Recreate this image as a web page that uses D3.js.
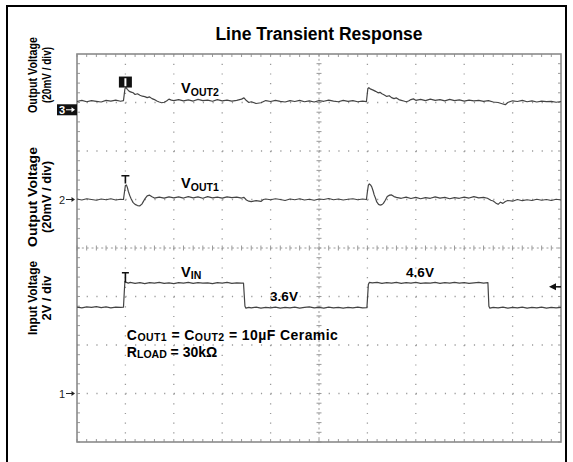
<!DOCTYPE html>
<html>
<head>
<meta charset="utf-8">
<script src="https://cdn.jsdelivr.net/npm/d3@7"></script>
<style>
  body { margin: 0; background: #fff; }
  svg { display: block; }
  text { font-family: "Liberation Sans", Arial, Helvetica, sans-serif; font-weight: bold; fill: #000; }
</style>
</head>
<body>
<div id="scope"></div>
<script>
// traces: [time in divisions, value]; VOUT in mV (AC), VIN in volts
const vout2 = [[0,3.4],[0.1,3.9],[0.2,3.3],[0.3,3.8],[0.4,3.5],[0.5,3.2],[0.6,3.9],[0.7,3.6],[0.8,4.0],[0.9,3.5],[0.96,3.8],
  [0.99,8.6],[1.01,9.2],[1.04,8.4],[1.08,7.6],[1.12,7.3],[1.16,7.0],[1.2,6.3],[1.25,6.6],[1.3,6.0],[1.35,5.6],[1.4,5.4],
  [1.45,5.0],[1.5,5.3],[1.55,4.6],[1.6,4.2],[1.65,3.6],[1.7,3.2],[1.75,2.9],[1.8,3.1],[1.85,3.6],[1.9,4.4],[1.95,4.0],
  [2.0,3.8],[2.1,4.2],[2.2,3.7],[2.3,4.1],[2.4,3.6],[2.5,4.3],[2.6,3.8],[2.7,4.0],[2.8,3.5],[2.9,4.2],[3.0,3.7],[3.1,4.0],
  [3.2,3.6],[3.3,3.9],[3.4,4.4],[3.45,4.9],[3.5,3.8],[3.55,3.0],[3.6,3.3],[3.7,2.6],[3.8,2.9],[3.9,3.8],[4.0,3.4],[4.1,3.9],
  [4.2,3.5],[4.3,3.2],[4.4,3.8],[4.5,3.4],[4.6,3.9],[4.7,3.3],[4.8,3.7],[4.9,3.2],[5.0,3.8],[5.1,3.5],[5.2,4.0],[5.3,3.6],
  [5.4,3.3],[5.5,3.9],[5.6,3.5],[5.7,3.8],[5.8,3.3],[5.9,3.6],[5.98,3.4],
  [6.01,8.8],[6.03,9.1],[6.07,8.5],[6.12,8.1],[6.17,7.6],[6.22,7.0],[6.26,7.2],[6.3,6.6],[6.35,6.1],[6.4,5.5],[6.45,5.8],
  [6.5,5.0],[6.55,4.6],[6.6,4.9],[6.65,4.2],[6.7,3.9],[6.75,3.6],[6.8,3.3],[6.85,3.6],[6.9,4.2],[6.95,4.5],[7.0,3.9],
  [7.1,4.3],[7.2,3.8],[7.3,4.4],[7.4,3.9],[7.5,4.2],[7.6,3.7],[7.7,4.3],[7.8,3.8],[7.9,4.1],[8.0,3.6],[8.1,4.0],[8.2,3.7],
  [8.3,3.9],[8.4,3.5],[8.5,3.8],[8.6,3.2],[8.7,3.0],[8.8,2.4],[8.85,2.1],[8.9,3.0],[9.0,3.7],[9.1,3.4],[9.2,3.9],[9.3,3.3],
  [9.4,3.7],[9.5,3.2],[9.6,3.6],[9.7,3.4],[9.8,3.5],[9.9,3.1],[10,3.4]];

const vout1 = [[0,0.2],[0.1,-0.2],[0.2,0.3],[0.3,0.0],[0.4,-0.3],[0.5,0.2],[0.6,-0.1],[0.7,0.3],[0.8,-0.2],[0.9,0.1],[0.96,0.0],
  [0.98,3.0],[1.0,5.8],[1.02,6.0],[1.04,5.0],[1.06,3.4],[1.09,1.6],[1.12,0.2],[1.16,-1.3],[1.2,-2.0],[1.25,-2.5],[1.3,-2.6],
  [1.34,-1.9],[1.37,-0.9],[1.41,0.5],[1.45,1.5],[1.5,1.8],[1.55,1.1],[1.6,0.6],[1.7,1.0],[1.8,0.6],[1.9,1.1],[2.0,0.7],
  [2.1,1.1],[2.2,0.6],[2.3,1.2],[2.4,0.7],[2.5,1.1],[2.6,0.5],[2.7,1.2],[2.8,0.7],[2.9,1.0],[3.0,0.6],[3.1,1.1],[3.2,0.8],
  [3.3,1.0],[3.4,0.6],[3.45,0.9],[3.5,-0.2],[3.55,-0.7],[3.6,-0.9],[3.7,-0.5],[3.8,-0.8],[3.85,0.0],[3.9,0.2],[4.0,-0.1],
  [4.1,0.3],[4.2,0.0],[4.3,-0.4],[4.4,0.2],[4.5,-0.1],[4.6,0.3],[4.7,-0.2],[4.8,0.1],[4.9,-0.3],[5.0,0.2],[5.1,0.0],
  [5.2,0.4],[5.3,-0.1],[5.4,0.2],[5.5,-0.2],[5.6,0.1],[5.7,0.3],[5.8,-0.1],[5.9,0.2],[5.98,0.0],
  [6.0,3.2],[6.02,5.9],[6.04,6.4],[6.07,5.9],[6.09,5.2],[6.12,3.4],[6.14,1.9],[6.17,0.4],[6.19,-0.9],[6.23,-2.0],[6.26,-2.3],
  [6.3,-2.1],[6.33,-1.6],[6.37,-0.3],[6.41,1.2],[6.46,1.8],[6.5,1.9],[6.55,1.2],[6.6,0.9],[6.7,0.5],[6.8,1.0],[6.9,0.4],
  [7.0,0.9],[7.1,0.3],[7.2,0.8],[7.3,0.5],[7.4,1.1],[7.5,0.6],[7.6,0.9],[7.7,0.3],[7.8,0.8],[7.9,0.5],[8.0,1.0],[8.1,0.6],
  [8.2,1.2],[8.3,0.7],[8.4,0.9],[8.48,0.5],[8.55,-0.3],[8.6,-0.6],[8.65,-1.4],[8.7,-2.0],[8.75,-1.1],[8.8,-1.6],[8.85,-0.8],
  [8.9,-0.4],[9.0,-0.7],[9.1,0.0],[9.2,-0.5],[9.3,-0.1],[9.4,-0.4],[9.5,0.1],[9.6,-0.3],[9.7,0.0],[9.8,-0.4],[9.9,0.1],[10,-0.2]];

const vin = [[0,3.56],[0.1,3.53],[0.2,3.57],[0.3,3.55],[0.4,3.58],[0.5,3.54],[0.6,3.57],[0.7,3.53],[0.8,3.56],[0.9,3.55],[0.96,3.56],
  [0.98,4.3],[0.99,4.62],[1.02,4.58],[1.06,4.55],[1.1,4.58],[1.2,4.54],[1.3,4.57],[1.4,4.53],[1.5,4.57],[1.6,4.55],[1.7,4.58],
  [1.8,4.54],[1.9,4.56],[2.0,4.53],[2.1,4.57],[2.2,4.55],[2.3,4.58],[2.4,4.54],[2.5,4.57],[2.6,4.55],[2.7,4.56],[2.8,4.53],
  [2.9,4.57],[3.0,4.55],[3.1,4.58],[3.2,4.54],[3.3,4.56],[3.4,4.55],[3.44,4.55],[3.47,3.6],[3.49,3.52],[3.55,3.55],[3.6,3.53],
  [3.7,3.56],[3.8,3.52],[3.9,3.55],[4.0,3.53],[4.1,3.56],[4.2,3.52],[4.3,3.55],[4.4,3.53],[4.5,3.56],[4.6,3.52],[4.7,3.55],
  [4.8,3.57],[4.9,3.53],[5.0,3.55],[5.1,3.52],[5.2,3.56],[5.3,3.53],[5.4,3.55],[5.5,3.52],[5.6,3.55],[5.7,3.53],[5.8,3.56],
  [5.9,3.53],[5.99,3.54],[6.02,4.5],[6.04,4.58],[6.1,4.56],[6.2,4.58],[6.3,4.54],[6.4,4.57],[6.5,4.55],[6.6,4.58],[6.7,4.54],
  [6.8,4.57],[6.9,4.55],[7.0,4.58],[7.1,4.54],[7.2,4.56],[7.3,4.55],[7.4,4.58],[7.5,4.54],[7.6,4.57],[7.7,4.55],[7.8,4.58],
  [7.9,4.55],[8.0,4.57],[8.1,4.54],[8.2,4.56],[8.3,4.58],[8.4,4.55],[8.49,4.57],[8.51,3.6],[8.53,3.52],[8.6,3.55],[8.7,3.53],
  [8.8,3.56],[8.9,3.52],[9.0,3.55],[9.1,3.53],[9.2,3.56],[9.3,3.52],[9.4,3.55],[9.5,3.53],[9.6,3.56],[9.7,3.52],[9.8,3.55],
  [9.9,3.53],[10,3.55]];

// channel 1 = VIN, 2 = VOUT1, 3 = VOUT2
const channelNames = ['1', '2', '3'];
const channelRefDiv = [-3.0, 1.0, 2.85];
const channelPerDiv = [2, 20, 20];
const triggerTime = 1.0;
const triggerLevel = 4.4;

const axisLabels = [
  ['Output Voltage', '(20mV / div)'],
  ['Output Voltage', '(20mV / div)'],
  ['Input Voltage', '2V / div']
];

function drawScope(id) {
  let width = 573, height = 462;
  let left = 77, right = 561, top = 54, bottom = 442;

  let x = d3.scaleLinear().domain([0, 10]).range([left, right]);
  let yDiv = d3.scaleLinear().domain([-4, 4]).range([bottom, top]);
  let chY = (ch, v) => yDiv(channelRefDiv[ch] + v / channelPerDiv[ch]);

  let svg = d3.select(`#${id}`).append('svg').attr('width', width).attr('height', height);

  // outer frame (open at bottom)
  svg.append('path')
    .attr('d', `M7,${height} V6 H566 V${height}`)
    .attr('fill', 'none').attr('stroke', '#000').attr('stroke-width', 2);

  svg.append('text')
    .attr('x', x(5)).attr('y', 40)
    .attr('text-anchor', 'middle')
    .style('font-size', '17.5px')
    .text('Line Transient Response');

  // graticule
  let grid = svg.append('g').attr('stroke', '#9a9a9a').attr('fill', 'none');
  let dx = x(0.2) - x(0), dy = yDiv(0) - yDiv(0.2);
  d3.range(1, 10).filter(t => t !== 5).forEach(t => {
    grid.append('line')
      .attr('x1', x(t)).attr('x2', x(t)).attr('y1', top).attr('y2', bottom)
      .attr('stroke-width', 1.3)
      .attr('stroke-dasharray', `1.2,${dy - 1.2}`);
  });
  d3.range(-3, 4).filter(d => d !== 0).forEach(d => {
    grid.append('line')
      .attr('x1', left).attr('x2', right).attr('y1', yDiv(d)).attr('y2', yDiv(d))
      .attr('stroke-width', 1.3)
      .attr('stroke-dasharray', `1.2,${dx - 1.2}`);
  });
  // center lines with minor ticks
  grid.append('line')
    .attr('x1', x(5)).attr('x2', x(5)).attr('y1', top).attr('y2', bottom)
    .attr('stroke-width', 1).attr('stroke-dasharray', `2,${dy / 2 - 2}`);
  grid.append('line')
    .attr('x1', left).attr('x2', right).attr('y1', yDiv(0)).attr('y2', yDiv(0))
    .attr('stroke-width', 1).attr('stroke-dasharray', `2,${dx / 2 - 2}`);
  d3.range(0, 50).forEach(i => {
    let t = i * 0.2;
    grid.append('line').attr('x1', x(t)).attr('x2', x(t))
      .attr('y1', yDiv(0) - 2.5).attr('y2', yDiv(0) + 2.5).attr('stroke-width', 1);
    grid.append('line').attr('x1', x(t)).attr('x2', x(t))
      .attr('y1', top).attr('y2', top + 3).attr('stroke-width', 1);
    grid.append('line').attr('x1', x(t)).attr('x2', x(t))
      .attr('y1', bottom).attr('y2', bottom - 3).attr('stroke-width', 1);
  });
  d3.range(0, 40).forEach(i => {
    let d = -4 + i * 0.2;
    grid.append('line').attr('y1', yDiv(d)).attr('y2', yDiv(d))
      .attr('x1', x(5) - 2.5).attr('x2', x(5) + 2.5).attr('stroke-width', 1);
    grid.append('line').attr('y1', yDiv(d)).attr('y2', yDiv(d))
      .attr('x1', left).attr('x2', left + 3).attr('stroke-width', 1);
    grid.append('line').attr('y1', yDiv(d)).attr('y2', yDiv(d))
      .attr('x1', right).attr('x2', right - 3).attr('stroke-width', 1);
  });
  svg.append('rect')
    .attr('x', left).attr('y', top).attr('width', right - left).attr('height', bottom - top)
    .attr('fill', 'none').attr('stroke', '#8a8a8a').attr('stroke-width', 1.6);

  // traces
  let traces = [[0, vin], [1, vout1], [2, vout2]];
  traces.forEach(([ch, data]) => {
    let line = d3.line().x(d => x(d[0])).y(d => chY(ch, d[1]));
    svg.append('path')
      .datum(data)
      .attr('d', line)
      .attr('fill', 'none')
      .attr('stroke', '#444')
      .attr('stroke-width', 1.2)
      .attr('stroke-linejoin', 'round');
  });

  // trigger markers
  let tx = x(triggerTime);
  let m3 = svg.append('g');
  m3.append('rect').attr('x', tx - 6.5).attr('y', chY(2, 13.7)).attr('width', 13).attr('height', 11).attr('fill', '#111');
  m3.append('rect').attr('x', tx - 1).attr('y', chY(2, 13.0)).attr('width', 2).attr('height', 8).attr('fill', '#fff');
  svg.append('path')
    .attr('d', `M${tx - 4},${chY(1, 9.8)} H${tx + 4} M${tx},${chY(1, 9.8)} V${chY(1, 6.6)}`)
    .attr('stroke', '#111').attr('stroke-width', 1.6).attr('fill', 'none');
  svg.append('path')
    .attr('d', `M${tx - 3.5},${chY(0, 4.98)} H${tx + 3.5} M${tx},${chY(0, 4.98)} V${chY(0, 4.58)}`)
    .attr('stroke', '#111').attr('stroke-width', 1.6).attr('fill', 'none');

  // trigger level arrow
  let ty = chY(0, triggerLevel);
  svg.append('path').attr('d', `M${right - 12},${ty} L${right - 5},${ty - 3.5} L${right - 5},${ty + 3.5} Z`).attr('fill', '#111');
  svg.append('line').attr('x1', right - 6).attr('x2', right).attr('y1', ty).attr('y2', ty)
    .attr('stroke', '#111').attr('stroke-width', 1.5);

  // channel ground markers
  channelNames.forEach((name, ch) => {
    let cy = chY(ch, 0);
    let g = svg.append('g');
    let fg = '#222';
    if (ch === 2) {
      g.append('rect').attr('x', left - 20).attr('y', cy - 5.5).attr('width', 20).attr('height', 11).attr('fill', '#111');
      fg = '#fff';
    }
    g.append('text').attr('x', left - 18).attr('y', cy + 4)
      .style('font-size', '11px').style('font-weight', ch === 2 ? 'bold' : 'normal').style('fill', fg)
      .text(name);
    g.append('line').attr('x1', left - 11).attr('x2', left - 4).attr('y1', cy).attr('y2', cy)
      .attr('stroke', fg).attr('stroke-width', 1);
    g.append('path').attr('d', `M${left - 2},${cy} L${left - 5.5},${cy - 2.5} L${left - 5.5},${cy + 2.5} Z`).attr('fill', fg);
  });

  // trace labels
  function subLabel(px, py, main, sub, size, subSize) {
    let t = svg.append('text').attr('x', px).attr('y', py);
    t.append('tspan').style('font-size', `${size}px`).text(main);
    t.append('tspan').style('font-size', `${subSize}px`).attr('dy', 2.5).text(sub);
    return t;
  }
  subLabel(x(2.15), chY(2, 6.9), 'V', 'OUT2', 14.5, 10.5);
  subLabel(x(2.15), chY(1, 4.6), 'V', 'OUT1', 14.5, 10.5);
  subLabel(x(2.15), chY(0, 4.82), 'V', 'IN', 14.5, 10.5);

  svg.append('text').attr('x', x(3.99)).attr('y', chY(0, 3.8)).style('font-size', '13.5px').text('3.6V');
  svg.append('text').attr('x', x(6.8)).attr('y', chY(0, 4.8)).style('font-size', '13.5px').text('4.6V');

  let c = svg.append('text').attr('x', x(1.03)).attr('y', yDiv(-1.89))
    .attr('textLength', 211).attr('lengthAdjust', 'spacing');
  c.append('tspan').style('font-size', '14px').text('C');
  c.append('tspan').style('font-size', '10.5px').attr('dy', 1.5).text('OUT1');
  c.append('tspan').style('font-size', '14px').attr('dy', -1.5).text(' = C');
  c.append('tspan').style('font-size', '10.5px').attr('dy', 1.5).text('OUT2');
  c.append('tspan').style('font-size', '14px').attr('dy', -1.5).text(' = 10\u00B5F Ceramic');
  let r = svg.append('text').attr('x', x(1.03)).attr('y', yDiv(-2.24));
  r.append('tspan').style('font-size', '14px').text('R');
  r.append('tspan').style('font-size', '10.5px').attr('dy', 1.5).text('LOAD');
  r.append('tspan').style('font-size', '14px').attr('dy', -1.5).text(' = 30k\u03A9');

  // rotated axis labels
  let labelCenters = [75, 197, 298];
  let line1Len = [76, 100, 74];
  let line2Len = [56, 72, 45];
  axisLabels.forEach((lines, i) => {
    let cy = labelCenters[i];
    svg.append('text')
      .attr('transform', `translate(37,${cy}) rotate(-90)`)
      .attr('text-anchor', 'middle')
      .attr('textLength', line1Len[i]).attr('lengthAdjust', 'spacingAndGlyphs')
      .style('font-size', '13.5px')
      .text(lines[0]);
    svg.append('text')
      .attr('transform', `translate(51,${cy}) rotate(-90)`)
      .attr('text-anchor', 'middle')
      .attr('textLength', line2Len[i]).attr('lengthAdjust', 'spacingAndGlyphs')
      .style('font-size', '13px')
      .text(lines[1]);
  });
}

drawScope('scope');
</script>
</body>
</html>
